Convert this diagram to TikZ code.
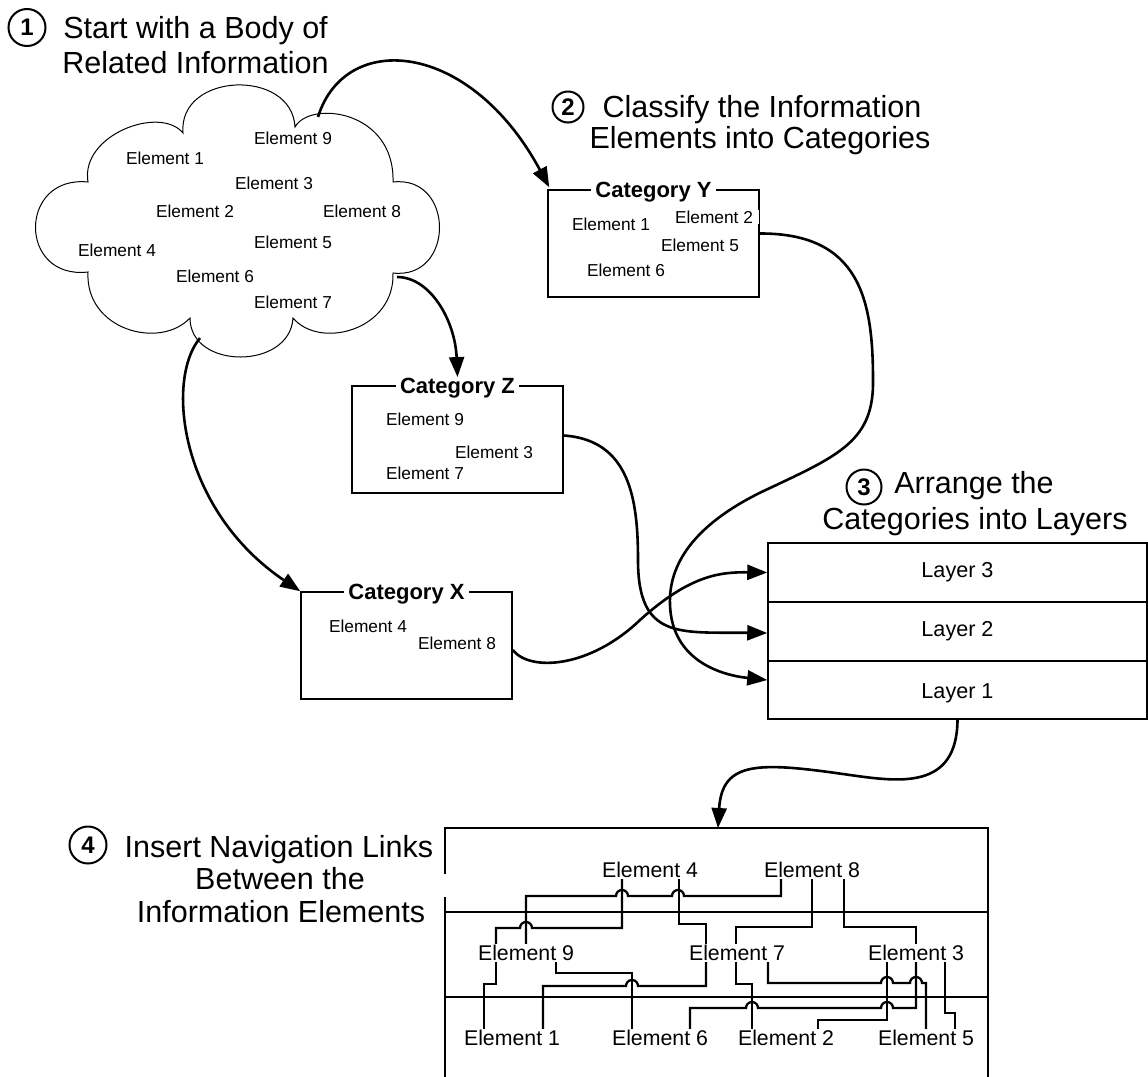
\documentclass[tikz,border=0pt]{standalone}
\usepackage{fontspec}
\setmainfont{Liberation Sans}
\usetikzlibrary{arrows.meta}
\newcommand\myfs[2]{\fontsize{#1}{#2}\selectfont}
\begin{document}
\begin{tikzpicture}[x=1pt,y=-1pt,
  conn/.style={line width=2.6pt,-{Triangle[length=20pt,width=15pt]}},
  link/.style={line width=2.3pt},
  boxline/.style={line width=1.5pt},
  elem/.style={font=\myfs{17.3}{20}, inner sep=1pt},
  navel/.style={font=\myfs{21.3}{24}, fill=white, inner sep=1pt},
  cattitle/.style={font=\myfs{22}{26}\bfseries, fill=white, inner xsep=4pt, inner ysep=1pt},
  ttl/.style={font=\myfs{30.5}{34}, anchor=base, inner sep=0pt},
  numc/.style={circle, draw, line width=2pt, font=\myfs{24}{26}\bfseries, inner sep=0pt},
  layerbox/.style={draw, boxline, minimum width=379pt, font=\myfs{21.6}{24}},
  catbox/.style={draw, boxline, minimum width=211pt, minimum height=107pt},
]
\useasboundingbox (0,0) rectangle (1148,1076);
\fill[white] (0,0) rectangle (1148,1076);
\clip (0,0) rectangle (1148,1076);

% ---------- titles ----------
\node[numc, minimum size=37pt] (n1) at (27,27.5) {1};
\node[ttl] (t1a) at (195.5,38) {Start with a Body of};
\node[ttl] (t1b) at (195.5,73) {Related Information};

\node[numc, minimum size=31pt] (n2) at (568,107) {2};
\node[ttl] (t2a) at (762,117) {Classify the Information};
\node[ttl] (t2b) at (760,148) {Elements into Categories};

\node[numc, minimum size=35pt] (n3) at (864,487) {3};
\node[ttl] (t3a) at (974,493) {Arrange the};
\node[ttl] (t3b) at (975,529) {Categories into Layers};

\node[numc, minimum size=37pt] (n4) at (88,845) {4};
\node[ttl] (t4a) at (279,857) {Insert Navigation Links};
\node[ttl] (t4b) at (280,889) {Between the};
\node[ttl] (t4c) at (281,922) {Information Elements};

% ---------- cloud ----------
\draw[line width=1pt] (88,182) .. controls (80,135) and (160,105) .. (183,133)
  .. controls (178,72) and (292,68) .. (295,127)
  .. controls (310,100) and (395,110) .. (393,182)
  .. controls (455,175) and (455,280) .. (393,273)
  .. controls (395,330) and (320,350) .. (293,318)
  .. controls (290,370) and (190,370) .. (190,318)
  .. controls (160,350) and (85,330) .. (88,272)
  .. controls (18,280) and (18,175) .. (88,182) -- cycle;
\coordinate (cloudNE) at (318,117);
\coordinate (cloudE) at (397,277);
\coordinate (cloudS) at (200,338);

\node[elem] (c9) at (293,138) {Element 9};
\node[elem] (c1) at (165,158) {Element 1};
\node[elem] (c3) at (274,183) {Element 3};
\node[elem] (c2) at (195,211) {Element 2};
\node[elem] (c8) at (362,211) {Element 8};
\node[elem] (c5) at (293,242) {Element 5};
\node[elem] (c4) at (117,250) {Element 4};
\node[elem] (c6) at (215,276) {Element 6};
\node[elem] (c7) at (293,302) {Element 7};

% ---------- categories ----------
\node[catbox] (catY) at (653.5,243.5) {};
\node[cattitle] (catYt) at ([yshift=-3pt]catY.north) {Category Y};
\node[elem] (y1) at (611,224) {Element 1};
\node[elem, fill=white, inner xsep=6pt] (y2) at (714,217) {Element 2};
\node[elem] (y5) at (700,245) {Element 5};
\node[elem] (y6) at (626,270) {Element 6};

\node[catbox] (catZ) at (457.5,439.5) {};
\node[cattitle] (catZt) at ([yshift=-3pt]catZ.north) {Category Z};
\node[elem] (z9) at (425,419) {Element 9};
\node[elem] (z3) at (494,452) {Element 3};
\node[elem] (z7) at (425,473) {Element 7};

\node[catbox] (catX) at (406.5,645.5) {};
\node[cattitle] (catXt) at ([yshift=-3pt]catX.north) {Category X};
\node[elem] (x4) at (368,626) {Element 4};
\node[elem] (x8) at (457,643) {Element 8};

% ---------- layers ----------
\node[layerbox, minimum height=59pt] (layer3) at (957.5,572.5) {Layer 3};
\node[layerbox, minimum height=59pt] (layer2) at (957.5,631.5) {Layer 2};
\node[layerbox, minimum height=58pt] (layer1) at (957.5,690) {\raisebox{-3pt}[\height][\depth]{Layer 1}};

% ---------- connectors ----------
\draw[conn] (cloudNE) .. controls (345,30) and (470,40) .. ([xshift=2pt,yshift=2pt]catY.north west);
\draw[conn] (cloudE) .. controls (430,277) and (455,320) .. (catZt.north);
\draw[conn] (cloudS) .. controls (165,380) and (180,510) .. (catX.north west);
\draw[conn] ([yshift=10pt]catY.east) .. controls (860,233) and (873,300) .. (873,380)
  .. controls (874,440) and (840,455) .. (770,488)
  .. controls (700,520) and (668,560) .. (670,605)
  .. controls (672,660) and (720,675) .. ([yshift=10pt]layer1.west);
\draw[conn] ([yshift=4pt]catZ.east) .. controls (630,440) and (638,500) .. (638,560)
  .. controls (638,640) and (680,632) .. ([yshift=-1.5pt]layer2.west);
\draw[conn] ([yshift=-4.5pt]catX.east) .. controls (530,672) and (590,668) .. (640,620)
  .. controls (690,575) and (720,572) .. (layer3.west);

% ---------- navigation box ----------
\coordinate (navtop) at (718,828);
\draw[boxline] (445,874) -- (445,828) -- (988,828) -- (988,1080);
\draw[boxline] (445,897) -- (445,1080);
\draw[boxline] (445,912) -- (988,912);
\draw[boxline] (445,997) -- (988,997);
\draw[conn] (layer1.south) .. controls (957,790) and (900,782) .. (850,775)
  .. controls (760,762) and (722,760) .. (navtop);

\node[navel] (N4) at (650,870) {Element 4};
\node[navel] (N8) at (812,870) {Element 8};
\node[navel] (N9) at (526,953) {Element 9};
\node[navel] (N7) at (737,953) {Element 7};
\node[navel] (N3) at (916,953) {Element 3};
\node[navel] (N1) at (512,1038) {Element 1};
\node[navel] (N6) at (660,1038) {Element 6};
\node[navel] (N2) at (786,1038) {Element 2};
\node[navel] (N5) at (926,1038) {Element 5};

% links
\draw[link] (N9.north) -- (526,896) -- (616,896) arc[start angle=180,end angle=0,radius=6pt]
  -- (672,896) arc[start angle=180,end angle=0,radius=6pt] -- (781,896) -- ([xshift=-31pt]N8.south);
\draw[link] ([xshift=-28pt]N4.south) -- (622,928) -- (532,928) arc[start angle=0,end angle=180,radius=6pt]
  -- (496,928) -- ([xshift=-30pt]N9.north);
\draw[link] ([xshift=-30pt]N9.south) |- (484,984) -- ([xshift=-28pt]N1.north);
\draw[link] ([xshift=29pt]N4.south) |- (706,924) -- ([xshift=-31pt]N7.north);
\draw[link] ([xshift=-31pt]N7.south) -- (706,986) -- (638,986) arc[start angle=0,end angle=180,radius=6pt]
  -- (543,986) -- ([xshift=31pt]N1.north);
\draw[link] ([xshift=30pt]N9.south) |- (632,973) -- ([xshift=-28pt]N6.north);
\draw[link] (N8.south) |- (736,927) -- ([xshift=-1pt]N7.north);
\draw[link] ([xshift=-1pt]N7.south) |- (752,984) -- ([xshift=-34pt]N2.north);
\draw[link] ([xshift=32pt]N8.south) |- (916,927) -- (N3.north);
\draw[link] ([xshift=30pt]N6.north) -- (690,1008) -- (746,1008) arc[start angle=180,end angle=0,radius=6pt]
  -- (881,1008) arc[start angle=180,end angle=0,radius=6pt] -- (916,1008) -- (N3.south);
\draw[link] ([xshift=31pt]N7.south) -- (768,983) -- (881,983) arc[start angle=180,end angle=0,radius=6pt]
  -- (910,983) arc[start angle=180,end angle=0,radius=6pt] -- (926,983) -- (N5.north);
\draw[link] ([xshift=-29pt]N3.south) |- (818,1020) -- ([xshift=32pt]N2.north);
\draw[link] ([xshift=29pt]N3.south) |- (955,1013) -- ([xshift=29pt]N5.north);
\end{tikzpicture}
\end{document}
